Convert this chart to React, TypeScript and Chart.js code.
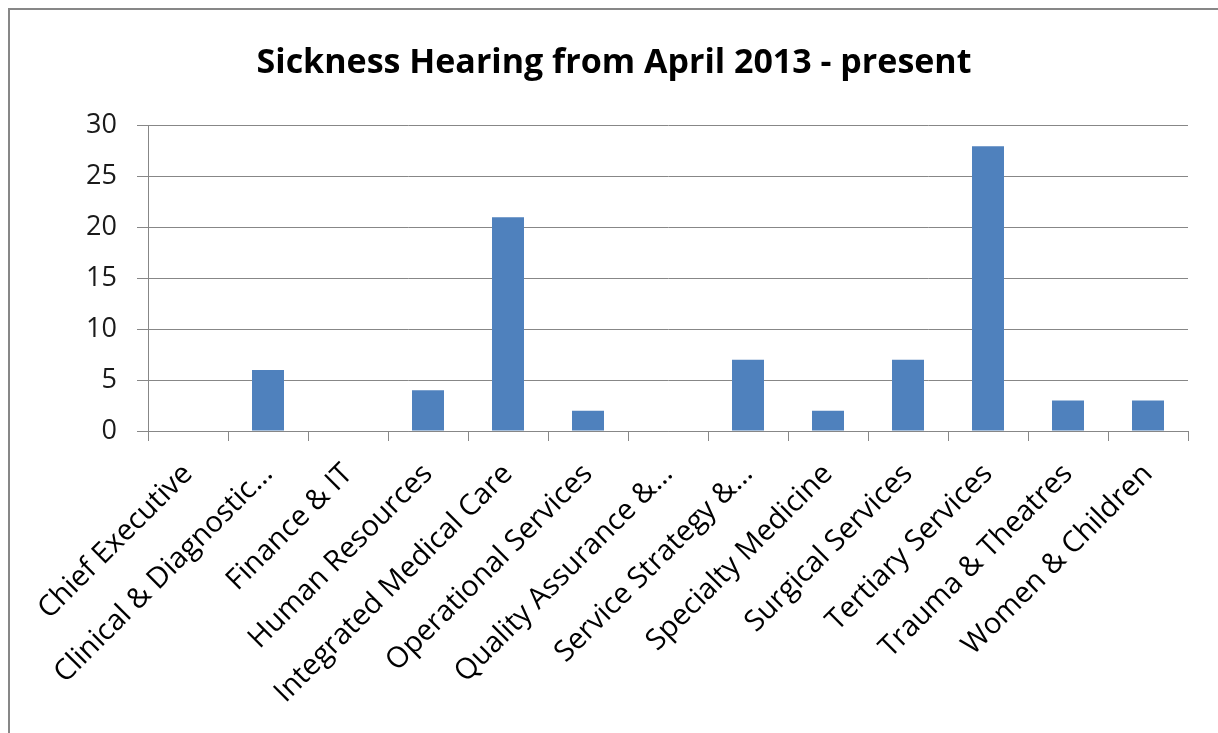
import React, { useEffect, useRef } from "react";
import { Chart, registerables } from "chart.js";

Chart.register(...registerables);

// Departments on the category axis
const departments: string[] = [
  "Chief Executive",
  "Clinical & Diagnostic…",
  "Finance & IT",
  "Human Resources",
  "Integrated Medical Care",
  "Operational Services",
  "Quality Assurance &…",
  "Service Strategy &…",
  "Specialty Medicine",
  "Surgical Services",
  "Tertiary Services",
  "Trauma & Theatres",
  "Women & Children",
];

// Number of sickness hearings per department
const hearings: number[] = [0, 6, 0, 4, 21, 2, 0, 7, 2, 7, 28, 3, 3];

const yTicks: number[] = [0, 5, 10, 15, 20, 25, 30];

const chartTitle = "Sickness Hearing from April 2013 - present";

const AXIS_GREY = "#878787";
const BAR_BLUE = "#4F81BD";
const FONT = "'Open Sans', 'Noto Sans', sans-serif";

export default function App() {
  const canvasRef = useRef<HTMLCanvasElement | null>(null);

  useEffect(() => {
    const canvas = canvasRef.current;
    if (!canvas) return;
    const chart = new Chart(canvas, {
      type: "bar",
      data: {
        labels: departments,
        datasets: [
          {
            data: hearings,
            backgroundColor: BAR_BLUE,
            borderWidth: 0,
            categoryPercentage: 1,
            barPercentage: 0.4,
          },
        ],
      },
      options: {
        animation: false,
        responsive: false,
        devicePixelRatio: 1,
        layout: { padding: 0 },
        plugins: {
          legend: { display: false },
          tooltip: { enabled: false },
          title: {
            display: true,
            text: chartTitle,
            color: "#000",
            font: { family: FONT, size: 34, weight: "bold", lineHeight: 1.2 },
            padding: { top: 33, bottom: 42 },
          },
        },
        scales: {
          x: {
            offset: true,
            grid: {
              offset: true,
              drawOnChartArea: false,
              drawTicks: true,
              tickLength: 10,
              color: AXIS_GREY,
              lineWidth: 1,
            },
            border: { display: true, color: AXIS_GREY, width: 1 },
            ticks: {
              autoSkip: false,
              maxRotation: 45,
              minRotation: 45,
              padding: 16,
              color: "#000",
              font: { family: FONT, size: 29 },
            },
            afterFit: (scale: any) => {
              scale.height = 302;
            },
          },
          y: {
            min: 0,
            max: 30,
            afterBuildTicks: (scale: any) => {
              scale.ticks = yTicks.map((v) => ({ value: v }));
            },
            grid: {
              drawTicks: true,
              tickLength: 11,
              color: AXIS_GREY,
              lineWidth: 1,
            },
            border: { display: true, color: AXIS_GREY, width: 1 },
            ticks: {
              padding: 20,
              color: "#1a1a1a",
              font: { family: FONT, size: 27 },
            },
            afterFit: (scale: any) => {
              scale.width = 138;
            },
          },
          // Blank right-hand margin axis so the title stays centred on the whole frame
          margin: {
            type: "linear",
            position: "right",
            display: true,
            grid: { display: false, drawTicks: false },
            border: { display: false },
            ticks: { display: false },
            afterFit: (scale: any) => {
              scale.width = 30;
            },
          },
        },
      },
    });
    return () => chart.destroy();
  }, []);

  return (
    <div
      style={{
        position: "fixed",
        left: 8,
        top: 8,
        right: 0,
        bottom: 0,
        borderLeft: `2px solid ${AXIS_GREY}`,
        borderTop: `2px solid ${AXIS_GREY}`,
        background: "#fff",
      }}
    >
      <canvas ref={canvasRef} width={1208} height={723} style={{ display: "block" }} />
    </div>
  );
}
